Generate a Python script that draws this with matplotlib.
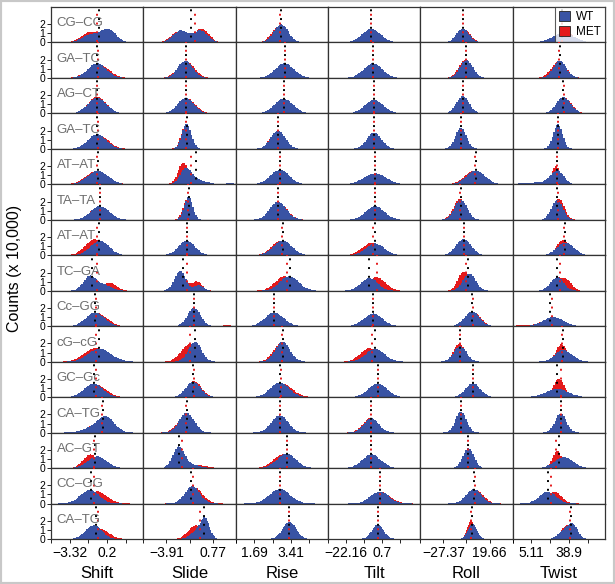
import numpy as np
import matplotlib
matplotlib.use("Agg")
import matplotlib.pyplot as plt
from matplotlib.patches import Rectangle

plt.rcParams['font.family'] = ['Liberation Sans', 'DejaVu Sans']

BLUE = '#3953a4'
RED = '#e41a1c'

steps = ["CG\u2013CG", "GA\u2013TC", "AG\u2013CT", "GA\u2013TC", "AT\u2013AT", "TA\u2013TA", "AT\u2013AT",
         "TC\u2013GA", "Cc\u2013GG", "cG\u2013cG", "GC\u2013Gc", "CA\u2013TG", "AC\u2013GT", "CC\u2013GG", "CA\u2013TG"]
params = ["Shift", "Slide", "Rise", "Tilt", "Roll", "Twist"]

# axis ranges and labelled ticks per parameter
x_lims = [(-4.0, 3.6), (-4.7, 2.9), (1.6899, 5.14), (-22.1601, 25.2), (-27.3701, 36.4), (-2.9, 71.4)]
x_ticks = [(-3.32, 0.2), (-3.91, 0.77), (1.69, 3.41), (-22.16, 0.7), (-27.37, 19.66), (5.11, 38.9)]
x_tick_labels = [("\u22123.32", "0.2"), ("\u22123.91", "0.77"), ("1.69", "3.41"),
                 ("\u221222.16", "0.7"), ("\u221227.37", "19.66"), ("5.11", "38.9")]

# main mode of each distribution (rows = steps, cols = params)
wt_center = [
    [0.79, 0.01, 3.39, 0.1, 1.94, 38.0],
    [-0.2, -1.24, 3.52, 1.0, 4.46, 35.0],
    [-0.2, -1.2, 3.49, 1.5, 1.94, 38.0],
    [-0.2, -1.13, 3.27, 1.5, 0.64, 33.5],
    [-0.12, -1.2, 3.34, 2.0, 10.88, 32.8],
    [0.03, -0.98, 3.27, 2.0, 0.64, 32.8],
    [0.03, -1.13, 3.45, 2.0, 2.55, 39.5],
    [-0.81, -1.66, 3.69, -0.9, 6.45, 32.8],
    [-0.35, -0.52, 3.14, 1.0, 8.36, 29.8],
    [0.03, -0.44, 3.45, 2.0, 0.03, 38.0],
    [-0.5, -0.6, 3.34, 3.4, 8.97, 32.8],
    [0.56, -1.13, 3.34, 0.1, 0.64, 35.7],
    [-0.2, -1.81, 3.59, 0.1, 5.76, 38.0],
    [-0.81, -0.67, 3.34, 4.4, 9.58, 25.3],
    [-1.04, 0.01, 3.34, -1.9, 1.94, 42.4],
]
wt_sd = [
    [0.60, 0.60, 0.27, 4.74, 4.4, 8.9],
    [0.76, 0.61, 0.35, 4.74, 4.4, 5.2],
    [0.76, 0.68, 0.35, 4.74, 4.4, 5.9],
    [0.76, 0.38, 0.27, 3.74, 3.8, 3.7],
    [0.84, 0.46, 0.35, 5.77, 6.4, 5.2],
    [0.76, 0.34, 0.31, 4.74, 4.4, 4.5],
    [0.76, 0.68, 0.35, 4.74, 5.2, 6.7],
    [0.53, 0.46, 0.35, 4.27, 4.4, 5.2],
    [0.76, 0.53, 0.35, 4.74, 5.2, 8.2],
    [0.91, 0.53, 0.27, 4.74, 4.4, 6.7],
    [0.76, 0.61, 0.35, 4.74, 5.2, 8.9],
    [0.68, 0.61, 0.31, 3.74, 3.8, 4.5],
    [0.76, 0.46, 0.35, 4.74, 3.8, 7.4],
    [0.76, 0.61, 0.38, 4.74, 5.2, 6.7],
    [0.76, 0.46, 0.31, 3.74, 4.4, 4.5],
]
wt_peak = [
    [1.35, 1.3, 2.0, 1.5, 1.5, 1.0],
    [1.6, 1.9, 1.6, 1.6, 2.0, 1.9],
    [1.7, 1.7, 1.6, 1.5, 1.9, 1.8],
    [1.6, 2.8, 2.0, 1.8, 2.3, 2.7],
    [1.5, 1.6, 1.6, 1.2, 1.5, 1.5],
    [1.5, 2.6, 2.0, 1.5, 2.2, 2.2],
    [1.6, 1.6, 1.6, 1.3, 1.8, 1.4],
    [1.6, 2.2, 1.6, 1.4, 1.9, 1.5],
    [1.5, 2.0, 1.5, 1.4, 1.6, 1.0],
    [1.45, 2.2, 2.2, 1.4, 1.7, 1.3],
    [1.5, 1.7, 1.6, 1.5, 1.5, 0.9],
    [1.6, 2.2, 1.9, 1.6, 2.3, 2.1],
    [1.3, 2.2, 1.6, 1.5, 2.2, 1.2],
    [1.5, 1.9, 1.6, 1.3, 1.6, 1.3],
    [1.5, 2.1, 1.9, 1.6, 1.7, 1.5],
]
met_center = [
    [-0.75, 0.09, 3.34, 0.1, 2.55, 39.5],
    [-0.12, -1.2, 3.52, 1.0, 3.85, 34.3],
    [-0.2, -1.15, 3.49, 1.5, 1.94, 38.7],
    [-0.1, -1.2, 3.25, 1.5, 0.64, 33.5],
    [-0.2, -1.43, 3.34, 2.0, 9.58, 32.0],
    [0.0, -1.05, 3.29, 2.0, 0.03, 34.3],
    [-0.43, -1.13, 3.39, 0.1, 2.55, 38.0],
    [-0.88, -1.66, 3.52, 2.9, 2.55, 32.8],
    [-0.2, -0.52, 3.14, 1.0, 8.97, 29.8],
    [-0.35, -0.9, 3.39, -0.9, -0.58, 36.5],
    [-0.28, -0.52, 3.42, 3.4, 8.97, 34.3],
    [-0.05, -1.2, 3.34, -0.4, 0.64, 35.7],
    [-0.73, -1.81, 3.45, 0.1, 5.76, 32.8],
    [-0.2, -0.52, 3.34, 4.9, 10.88, 30.5],
    [-0.43, -0.9, 3.34, -1.9, 0.64, 35.7],
]
met_sd = [
    [0.75, 0.60, 0.28, 4.74, 4.4, 5.9],
    [0.84, 0.68, 0.35, 4.74, 4.4, 5.9],
    [0.76, 0.70, 0.35, 4.74, 4.4, 5.9],
    [0.80, 0.38, 0.27, 3.74, 3.8, 3.7],
    [0.91, 0.42, 0.35, 5.77, 6.4, 3.7],
    [0.76, 0.35, 0.32, 4.74, 4.4, 4.5],
    [0.76, 0.68, 0.35, 4.74, 5.2, 5.2],
    [0.53, 0.46, 0.35, 4.27, 3.8, 5.2],
    [0.80, 0.53, 0.35, 4.74, 5.2, 8.2],
    [0.90, 0.68, 0.28, 4.48, 3.8, 4.5],
    [0.80, 0.61, 0.38, 4.74, 5.2, 4.5],
    [0.91, 0.65, 0.31, 3.74, 3.8, 4.5],
    [0.61, 0.46, 0.35, 4.74, 3.8, 3.7],
    [0.80, 0.68, 0.38, 4.74, 5.2, 5.9],
    [0.80, 0.76, 0.31, 3.74, 3.8, 5.2],
]
met_peak = [
    [1.15, 1.5, 1.9, 1.5, 1.5, 1.3],
    [1.55, 1.85, 1.6, 1.6, 2.0, 1.85],
    [1.8, 1.7, 1.55, 1.5, 1.9, 1.75],
    [1.55, 2.6, 1.95, 1.8, 2.3, 2.7],
    [1.45, 2.2, 1.6, 1.2, 1.5, 2.0],
    [1.5, 2.4, 1.9, 1.5, 2.3, 2.3],
    [1.75, 1.6, 1.6, 1.35, 1.8, 1.7],
    [1.3, 1.9, 1.6, 1.5, 2.1, 1.4],
    [1.45, 1.95, 1.5, 1.4, 1.6, 1.0],
    [1.5, 1.9, 2.1, 1.5, 2.0, 1.9],
    [1.4, 1.75, 1.5, 1.5, 1.5, 2.0],
    [1.0, 2.0, 1.9, 1.6, 2.3, 2.1],
    [1.5, 2.0, 1.5, 1.5, 2.2, 1.9],
    [1.35, 1.8, 1.6, 1.3, 1.5, 1.3],
    [1.1, 1.5, 1.9, 1.6, 2.0, 1.1],
]
# secondary humps / tails: (row, col, series, center, sd, peak)
extra_modes = [
    (0, 0, 'wt', -0.65, 0.75, 0.9), (0, 0, 'met', 0.79, 0.6, 1.1),
    (0, 1, 'wt', -1.66, 0.60, 1.3), (0, 1, 'met', -1.81, 0.60, 1.2),
    (4, 1, 'wt', -0.29, 0.76, 0.5), (4, 1, 'wt', 2.44, 0.30, 0.2),
    (4, 1, 'met', -0.52, 0.76, 0.35), (4, 5, 'wt', 15.7, 11.1, 0.2),
    (7, 0, 'wt', 0.41, 0.61, 0.6), (7, 0, 'met', 0.86, 0.53, 0.9),
    (7, 1, 'wt', -0.14, 0.38, 0.6), (7, 1, 'met', -0.29, 0.42, 1.0),
    (7, 5, 'met', 41.7, 3.7, 0.9),
    (8, 1, 'met', 2.14, 0.30, 0.15), (8, 5, 'met', 4.5, 7.4, 0.1),
    (11, 0, 'wt', -0.58, 0.84, 0.5),
    (12, 1, 'wt', -0.9, 0.76, 0.4), (12, 1, 'met', -0.29, 0.76, 0.35),
    (14, 1, 'wt', -0.9, 0.61, 0.8),
    (14, 5, 'wt', 34.3, 5.2, 0.8), (14, 5, 'met', 42.4, 4.5, 0.9),
]
# mean values (dotted lines)
wt_mean = [
    [-0.05, -0.75, 3.39, 0.1, 1.94, 36.5],
    [-0.2, -1.2, 3.52, 1.0, 4.46, 35.0],
    [-0.2, -1.2, 3.49, 1.5, 1.94, 38.0],
    [-0.2, -1.13, 3.27, 1.5, 0.64, 33.5],
    [-0.12, -0.37, 3.34, 2.0, 10.88, 32.8],
    [0.03, -0.98, 3.27, 2.0, 0.64, 32.8],
    [-0.04, -1.13, 3.45, 2.0, 2.55, 39.5],
    [-0.66, -1.43, 3.73, -0.9, 5.76, 32.8],
    [-0.35, -0.52, 3.14, 1.0, 8.36, 26.8],
    [-0.05, -0.44, 3.45, 2.0, 0.03, 38.0],
    [-0.5, -0.6, 3.34, 3.4, 8.97, 32.8],
    [0.26, -1.13, 3.34, 0.1, 0.64, 35.7],
    [-0.35, -1.74, 3.62, 0.1, 5.76, 34.3],
    [-0.73, -0.75, 3.34, 4.4, 9.58, 25.3],
    [-0.81, -0.14, 3.34, -1.9, 1.94, 40.9],
]
met_mean = [
    [-0.2, -0.44, 3.36, 0.1, 2.32, 37.2],
    [-0.15, -1.2, 3.52, 1.0, 4.16, 34.6],
    [-0.2, -1.17, 3.49, 1.5, 1.94, 38.5],
    [-0.15, -1.17, 3.26, 1.5, 0.64, 33.5],
    [-0.2, -0.75, 3.34, 2.0, 10.19, 32.4],
    [0.02, -1.02, 3.28, 2.0, 0.34, 33.6],
    [-0.2, -1.13, 3.42, 0.7, 2.55, 38.7],
    [-0.2, -1.13, 3.59, 2.9, 3.85, 35.0],
    [-0.27, -0.52, 3.14, 1.0, 8.66, 29.0],
    [-0.28, -0.82, 3.42, 0.55, -0.28, 36.5],
    [-0.3, -0.55, 3.38, 3.4, 8.97, 35.7],
    [0.18, -1.17, 3.34, -0.13, 0.64, 35.7],
    [-0.5, -1.51, 3.59, 0.1, 5.76, 32.0],
    [-0.43, -0.6, 3.34, 4.66, 10.19, 28.3],
    [-0.66, -0.52, 3.34, -1.9, 1.02, 40.2],
]

N_BINS = 64


def counts(edges, modes):
    c = 0.5 * (edges[:-1] + edges[1:])
    y = np.zeros_like(c)
    for mu, sd, h in modes:
        y += h * np.exp(-0.5 * ((c - mu) / sd) ** 2)
    return y


fig, axes = plt.subplots(len(steps), len(params), figsize=(6.15, 5.84), dpi=100)
fig.subplots_adjust(left=51 / 615, right=605 / 615, top=1 - 7 / 584, bottom=1 - 539 / 584,
                    hspace=0, wspace=0)

for i, step in enumerate(steps):
    for j, p in enumerate(params):
        ax = axes[i, j]
        lo, hi = x_lims[j]
        edges = np.linspace(lo, hi, N_BINS + 1)
        wt_modes = [(wt_center[i][j], wt_sd[i][j], wt_peak[i][j])]
        met_modes = [(met_center[i][j], met_sd[i][j], met_peak[i][j])]
        for r, c, s, mu, sd, h in extra_modes:
            if r == i and c == j:
                (wt_modes if s == 'wt' else met_modes).append((mu, sd, h))
        ax.stairs(counts(edges, met_modes), edges, fill=True, color=RED, lw=0, label='MET')
        ax.stairs(counts(edges, wt_modes), edges, fill=True, color=BLUE, lw=0, label='WT')
        ax.axvline(met_mean[i][j], color=RED, lw=1.4, ls=(0, (1, 3.5)), zorder=3)
        ax.axvline(wt_mean[i][j], color='black', lw=1.4, ls=(2.2, (1, 3.5)), zorder=3)
        ax.set_xlim(lo, hi)
        ax.set_ylim(0, 3.9)
        for s in ax.spines.values():
            s.set_color('#333333')
            s.set_linewidth(0.9)
        if j == 0:
            ax.set_yticks([0, 1, 2])
            ax.set_yticklabels(['0', '1', '2'], fontsize=7.5)
            ax.tick_params(axis='y', length=3, width=0.6, pad=1)
            ax.text(0.06, 2.1, step, color='#6d6d6d', fontsize=9.5, va='center', ha='left',
                    transform=ax.get_yaxis_transform())
        else:
            ax.set_yticks([])
        if i == len(steps) - 1:
            t0, t1 = x_ticks[j]
            ax.set_xticks([t0, t1])
            ax.set_xticklabels(x_tick_labels[j], fontsize=10)
            ax.set_xticks([t0 + k * (t1 - t0) / 2 for k in (-1, 1, 3)], minor=True)
            ax.tick_params(axis='x', which='both', length=3, width=0.6, pad=2)
            ax.set_xlabel(p, fontsize=12, labelpad=4)
        else:
            ax.set_xticks([])

h, l = axes[0, -1].get_legend_handles_labels()
leg = axes[0, -1].legend(h[::-1], l[::-1], loc='upper right', fontsize=8.5, frameon=True,
                         fancybox=False, borderaxespad=0, handlelength=0.9, handleheight=0.9,
                         handletextpad=0.5, borderpad=0.35, labelspacing=0.25)
leg.get_frame().set_edgecolor('#333333')
leg.get_frame().set_linewidth(0.8)
for hd in leg.legend_handles:
    hd.set_edgecolor('#222222')
    hd.set_linewidth(0.6)

fig.text(14 / 615, 1 - 268 / 584, "Counts (x 10,000)", rotation=90, fontsize=11.5,
         ha='center', va='center')
fig.patches.append(Rectangle((0, 0), 1, 1, transform=fig.transFigure, fill=False,
                             edgecolor='#c8c8c8', lw=3))

fig.savefig("out.png", dpi=100)
